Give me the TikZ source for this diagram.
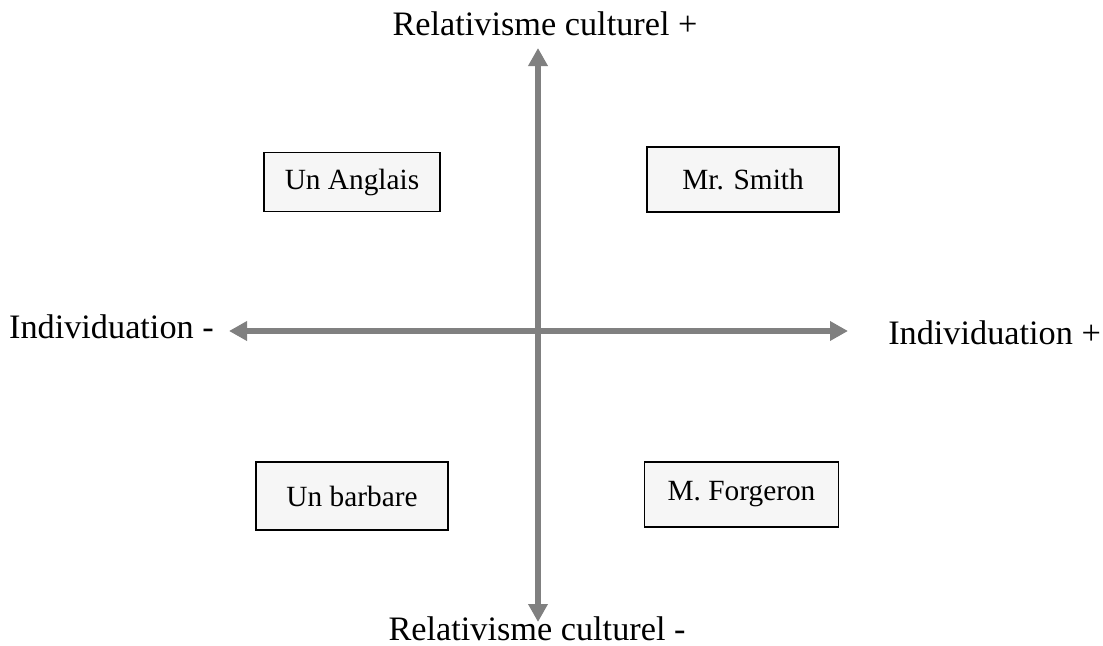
\documentclass[tikz,border=0pt]{standalone}
\usepackage{fontspec}
\setmainfont{Liberation Serif}
\usetikzlibrary{arrows.meta,positioning}

\begin{document}
\begin{tikzpicture}[
        x=0.75pt,y=-0.75pt,
        axis/.style={
          draw=gray,line width=4.2pt,
          {Triangle[length=13.5pt,width=14pt]}-{Triangle[length=13.5pt,width=14pt]}
        },
        pole/.style={font=\fontsize{25.7}{30}\selectfont,inner sep=0pt},
        figure/.style={
          draw,line width=0.9pt,fill=gray!7,
          font=\fontsize{22}{26}\selectfont,
          inner sep=0pt
        },
      ]
      \useasboundingbox (0,0) rectangle (1103,646);

      \coordinate (top) at (538,48);
      \coordinate (bottom) at (538,622);
      \coordinate (left) at (229,331);
      \coordinate (right) at (848,331);

      \draw[axis] (top) -- (bottom);
      \draw[axis] (left) -- (right);

      \node[pole,anchor=base] (relplus) at (545,35) {Relativisme culturel +};
      \node[pole,anchor=base] (relminus) at (537,640) {Relativisme culturel -};
      \node[pole,anchor=base east] (indminus) at (214,338) {Individuation -};
      \node[pole,anchor=base west] (indplus) at (888,344) {Individuation +};

      \node[figure,minimum width=132pt,minimum height=44pt] (anglais) at (352,182) {Un Anglais};
      \node[figure,minimum width=144pt,minimum height=48.75pt] (smith) at (743,179.5) {Mr. Smith};
      \node[figure,minimum width=144pt,minimum height=51pt] (barbare) at (352,496) {Un barbare};
      \node[figure,minimum width=145pt,minimum height=48.75pt] (forgeron) at (741.5,494.5) {M. Forgeron};
    \end{tikzpicture}
\end{document}
